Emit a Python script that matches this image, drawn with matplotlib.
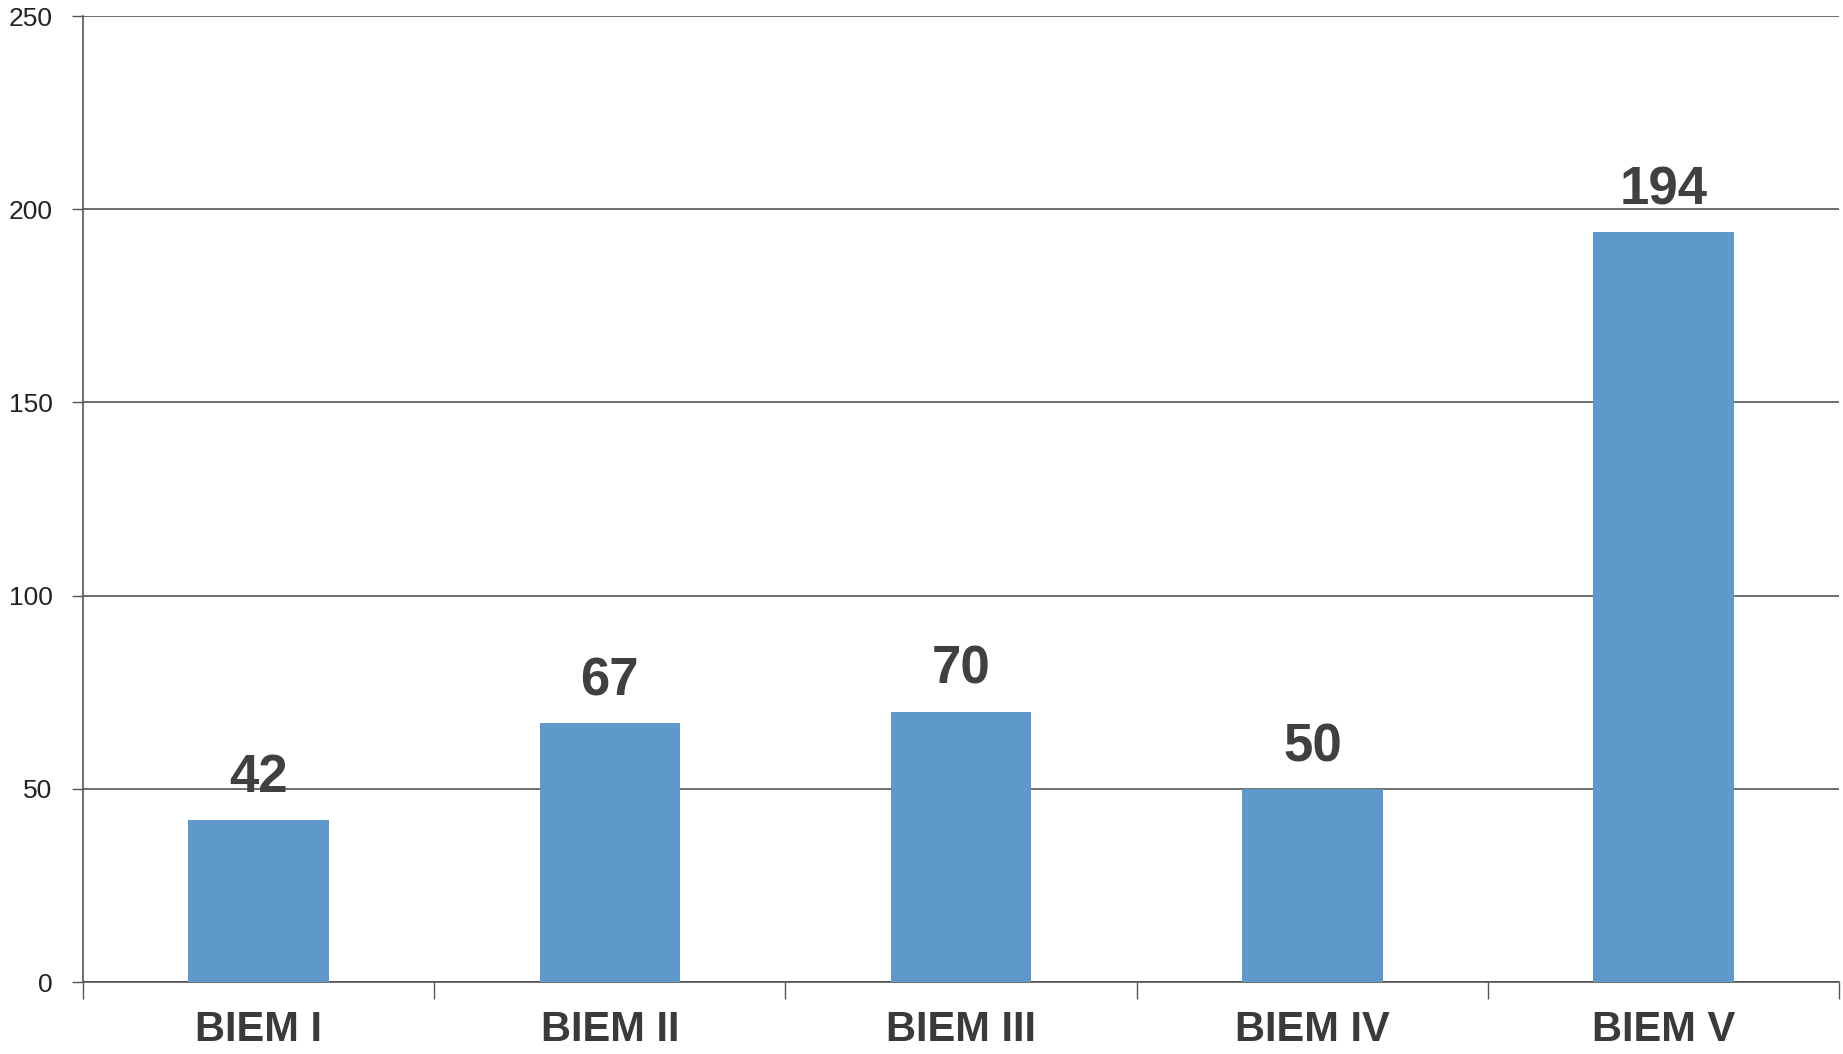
import matplotlib
matplotlib.use("Agg")
import matplotlib.pyplot as plt
import numpy as np

categories = ["BIEM I", "BIEM II", "BIEM III", "BIEM IV", "BIEM V"]
values = [42, 67, 70, 50, 194]
yticks = [0, 50, 100, 150, 200, 250]

plt.rcParams['font.family'] = ['Liberation Sans', 'DejaVu Sans']

fig = plt.figure(figsize=(18.43, 10.54), dpi=100)
ax = fig.add_axes([0.045, 0.0683, 0.953, 0.9165])

x = np.arange(len(categories))
ax.bar(x, values, width=0.4, color="#5f98ca", zorder=3)

ax.set_xlim(-0.5, len(categories) - 0.5)
ax.set_ylim(0, 250)
ax.set_yticks(yticks)
ax.set_yticklabels([str(v) for v in yticks], fontsize=19, color="#222222")
ax.yaxis.grid(True, color="#555555", linewidth=1.2, zorder=0)
ax.tick_params(axis='y', length=8, width=1.0, color="#555555", pad=14)

ax.set_xticks(x)
ax.set_xticklabels(categories, fontsize=30, fontweight='bold', color="#3a3a3a")
ax.set_xticks(np.arange(len(categories) + 1) - 0.5, minor=True)
ax.tick_params(axis='x', which='major', length=0, pad=20)
ax.tick_params(axis='x', which='minor', length=12, width=1.0, color="#555555", direction='out')

for s in ['top', 'right']:
    ax.spines[s].set_visible(False)
for s in ['left', 'bottom']:
    ax.spines[s].set_color("#555555")
    ax.spines[s].set_linewidth(1.2)

for xi, v in zip(x, values):
    ax.annotate(str(v), (xi, v), xytext=(0, 12), textcoords='offset points',
                ha='center', va='bottom', fontsize=38, fontweight='bold',
                color="#404040", zorder=4)

fig.savefig("out.png", dpi=100, facecolor="white")
